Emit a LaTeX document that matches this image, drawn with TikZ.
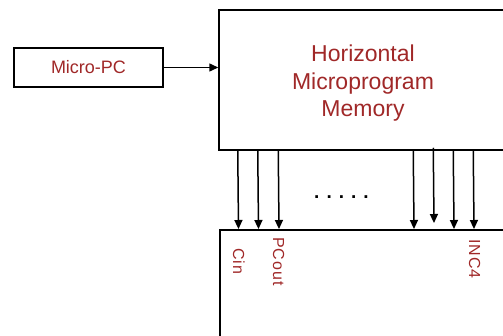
\documentclass[tikz,border=0pt]{standalone}
\usepackage{fontspec}
\setmainfont{Liberation Sans}
\usetikzlibrary{arrows.meta}
\definecolor{lblc}{RGB}{160,40,40}
\begin{document}
\begin{tikzpicture}[x=1pt,y=-1pt,
  box/.style={draw,line width=1.5pt,inner sep=0pt},
  arr/.style={line width=1.5pt,-{Triangle[length=9pt,width=8pt]}},
  sig/.style={text=lblc,inner sep=0pt,rotate=-90,anchor=base west,
    font=\fontsize{16}{19}\selectfont\addfontfeature{LetterSpace=6}}]
\useasboundingbox (0,0) rectangle (503,335);
\clip (0,0) rectangle (503,335);
\node[box,minimum width=149pt,minimum height=39pt,text=lblc,
  font=\fontsize{18}{21}\selectfont] (pc) at (88.5,67.5) {Micro-PC};
\node[box,minimum width=301pt,minimum height=140pt] (mem) at (369.5,80) {};
\node[align=center,text=lblc,inner sep=0pt,
  font=\fontsize{23}{27.5}\selectfont] (memtxt) at (363,83.5)
  {Horizontal\\Microprogram\\Memory};
\node[box,minimum width=301pt,minimum height=120pt,anchor=north west] (ctl) at (219,229) {};
\draw[arr] (pc.east) -- (mem.west |- pc.east);
\foreach \dx in {19.5,39.5,60,195,235,255}
  \draw[arr] ([xshift=\dx pt]mem.south west) -- ([xshift=\dx pt]ctl.north west);
\draw[arr] ([xshift=215pt,yshift=3pt]mem.south west) -- ([xshift=215pt,yshift=6pt]ctl.north west);
\node[inner sep=0pt,font=\fontsize{19}{21}\selectfont\bfseries] (dots) at (341.5,197) {. . . . .};
\node[sig] (cin) at (233,248) {Cin};
\node[sig] (pcout) at (273,237) {PCout};
\node[sig] (inc4) at (469,239) {INC4};
\end{tikzpicture}
\end{document}
